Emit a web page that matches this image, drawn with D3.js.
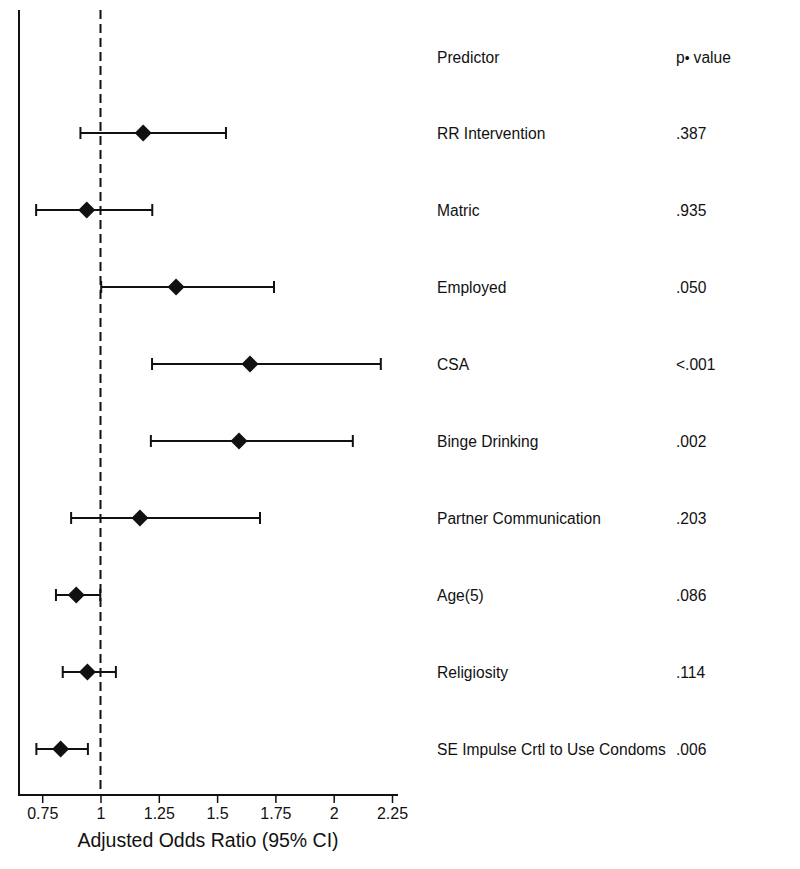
<!DOCTYPE html>
<html><head><meta charset="utf-8">
<script src="https://cdn.jsdelivr.net/npm/d3@7"></script>
<style>body{margin:0;background:#fff}svg{display:block}text{font-family:"Liberation Sans",Arial,Helvetica,sans-serif;fill:#111}</style>
</head><body><svg id="c" width="800" height="869"></svg>
<script>
const predictors = ["RR Intervention","Matric","Employed","CSA","Binge Drinking","Partner Communication","Age(5)","Religiosity","SE Impulse Crtl to Use Condoms"];
const oddsRatio = [1.183,0.941,1.324,1.641,1.594,1.169,0.896,0.944,0.829];
const ciLow =    [0.914,0.724,1.003,1.221,1.216,0.874,0.809,0.838,0.725];
const ciHigh =   [1.538,1.222,1.744,2.202,2.082,1.684,0.999,1.066,0.946];
const pValues = [".387",".935",".050","<.001",".002",".203",".086",".114",".006"];
const xTicks = [0.75,1,1.25,1.5,1.75,2,2.25];
const xTickLabels = ["0.75","1","1.25","1.5","1.75","2","2.25"];

const svg = d3.select("#c");
const x = d3.scaleLinear().domain([1,2.25]).range([100.5,392]);
const xLeft = 19, xRight = 398;
const y = d3.scalePoint().domain(predictors).range([133,749]);
const axisY = 795;

svg.append("line").attr("x1",xLeft).attr("x2",xLeft).attr("y1",10).attr("y2",axisY+1)
  .attr("stroke","#111").attr("stroke-width",2);

const ax = svg.append("g").attr("transform",`translate(0,${axisY})`)
  .call(d3.axisBottom(x).tickValues(xTicks).tickFormat((d,i)=>xTickLabels[i]).tickSize(8).tickSizeOuter(0).tickPadding(5));
ax.select(".domain").attr("d",`M${xLeft},0H${xRight}`).attr("stroke","#111").attr("stroke-width",2);
ax.selectAll(".tick line").attr("stroke","#111").attr("stroke-width",1.5);
ax.selectAll(".tick text").attr("font-size",16).attr("font-family","Liberation Sans, Arial, sans-serif").attr("fill","#111");

svg.append("text").attr("x",208).attr("y",847).attr("text-anchor","middle").attr("font-size",19.5)
  .text("Adjusted Odds Ratio (95% CI)");

svg.append("line").attr("x1",x(1)).attr("x2",x(1)).attr("y1",10).attr("y2",axisY)
  .attr("stroke","#111").attr("stroke-width",2).attr("stroke-dasharray","9,5");

const g = svg.append("g");
predictors.forEach((p,i)=>{
  const yy = y(p);
  g.append("line").attr("x1",x(ciLow[i])).attr("x2",x(ciHigh[i])).attr("y1",yy).attr("y2",yy)
    .attr("stroke","#111").attr("stroke-width",1.8);
  [ciLow[i],ciHigh[i]].forEach(v=>{
    g.append("line").attr("x1",x(v)).attr("x2",x(v)).attr("y1",yy-6).attr("y2",yy+6)
      .attr("stroke","#111").attr("stroke-width",2);
  });
  const cx = x(oddsRatio[i]), s = 8.5;
  g.append("path").attr("d",`M${cx},${yy-s}L${cx+s},${yy}L${cx},${yy+s}L${cx-s},${yy}Z`).attr("fill","#111");
  svg.append("text").attr("x",437).attr("y",yy+6).attr("font-size",15.6).text(p);
  svg.append("text").attr("x",676).attr("y",yy+6).attr("font-size",15.6).text(pValues[i]);
});
svg.append("text").attr("x",437).attr("y",63).attr("font-size",15.6).text("Predictor");
const pv = svg.append("text").attr("x",676).attr("y",63).attr("font-size",15.6);
pv.append("tspan").text("p");
pv.append("tspan").attr("dx",0).attr("font-size",14).text("\u2022");
pv.append("tspan").attr("dx",4).text("value");
</script></body></html>
